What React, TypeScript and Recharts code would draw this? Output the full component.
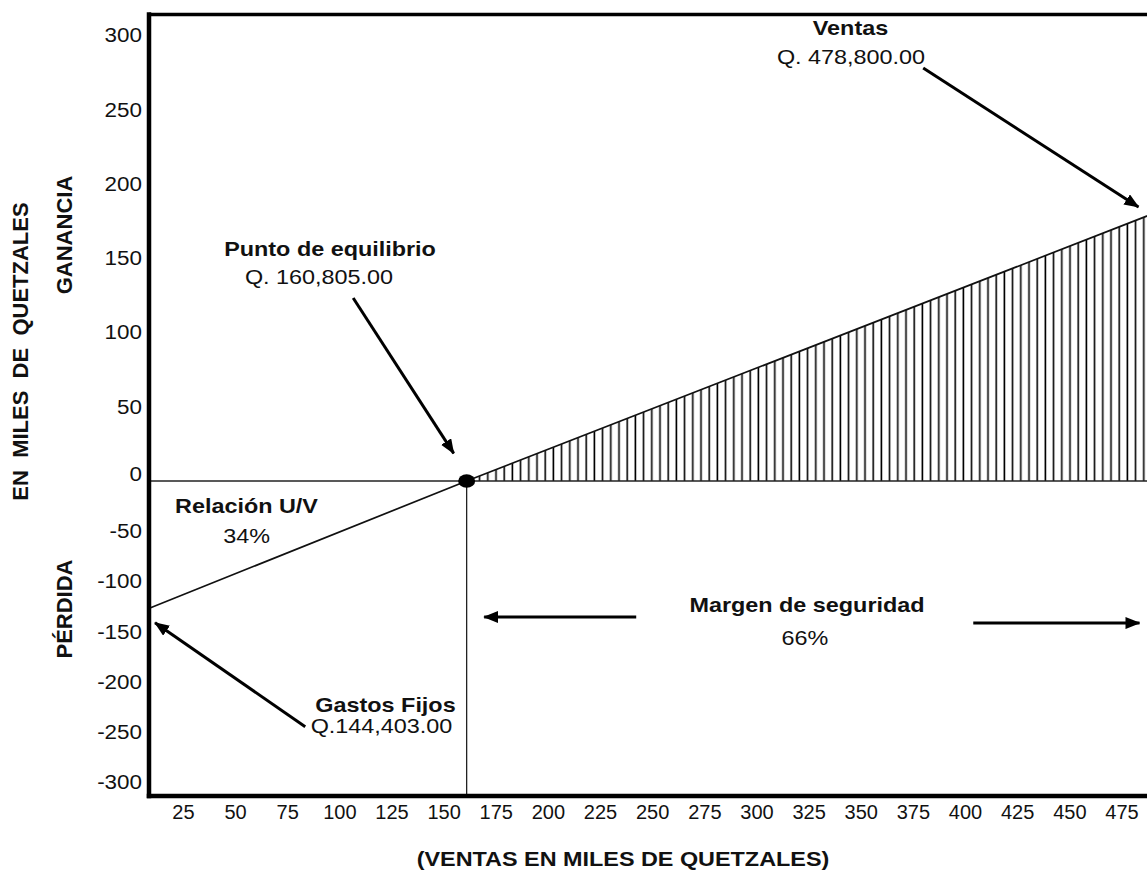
import React from 'react';
import {
  ComposedChart,
  Line,
  Area,
  XAxis,
  YAxis,
  ReferenceLine,
  ReferenceDot,
} from 'recharts';

const FONT = '"Liberation Sans", Arial, sans-serif';

// ventas vs utilidad, en miles de quetzales
const ventas = [0, 160.8, 490];
const utilidad = [-134, 0, 180];

const puntoEquilibrio = 160.8;

const xTicks = [25, 50, 75, 100, 125, 150, 175, 200, 225, 250, 275, 300, 325, 350, 375, 400, 425, 450, 475];
const yTicks = [300, 250, 200, 150, 100, 50, 0, -50, -100, -150, -200, -250, -300];

const xDomain = [8.5, 487];
const yDomain = [-314, 314];

// arrows, in chart units
const flechas = [
  { id: 'ventas', from: { x: 379.7, y: 278 }, to: { x: 482.9, y: 184.4 } },
  { id: 'equilibrio', from: { x: 106.4, y: 123.2 }, to: { x: 154.6, y: 18.6 } },
  { id: 'gastos', from: { x: 83.4, y: -245 }, to: { x: 11.4, y: -141.3 } },
  { id: 'margenIzq', from: { x: 242.1, y: -135.6 }, to: { x: 169.2, y: -135.6 } },
  { id: 'margenDer', from: { x: 403.7, y: -141.6 }, to: { x: 483.4, y: -141.6 } },
];

const rows = ventas.map((v, i) => ({
  ventas: v,
  utilidad: utilidad[i],
  ganancia: utilidad[i] >= 0 ? utilidad[i] : null,
}));

// the original draws the loss side compressed: zero sits lower than the middle
function splitScale(negShare: number): any {
  let dom = [0, 1];
  let rng = [0, 1];
  const s: any = (v: number) => {
    const lo = Math.min(dom[0], dom[1]);
    const hi = Math.max(dom[0], dom[1]);
    const z = rng[0] + negShare * (rng[1] - rng[0]);
    if (v >= 0) return z + (v / hi) * (rng[1] - z);
    return z + (v / lo) * (rng[0] - z);
  };
  s.domain = (d?: any[]) => {
    if (d) {
      dom = [Number(d[0]), Number(d[1])];
      return s;
    }
    return dom.slice();
  };
  s.range = (r?: any[]) => {
    if (r) {
      rng = [Number(r[0]), Number(r[1])];
      return s;
    }
    return rng.slice();
  };
  s.copy = () => splitScale(negShare).domain(dom).range(rng);
  s.ticks = () => yTicks.slice();
  s.tickFormat = () => (v: any) => String(v);
  return s;
}

const yScale = splitScale(315 / 781.5);

function YTick(props: any) {
  const { x, y, payload } = props;
  // the "0" label sits a little above the zero line in the original
  const lift = payload.value === 0 ? -7 : 0;
  return (
    <text
      transform={`translate(${x},${y + lift}) scale(1.15,1)`}
      textAnchor="end"
      dy="0.36em"
      fontSize={19.5}
      fontFamily={FONT}
      fill="#111"
    >
      {payload.value}
    </text>
  );
}

function XTick(props: any) {
  const { x, y, payload } = props;
  return (
    <text x={x} y={y} textAnchor="middle" dy="0.71em" fontSize={20} fontFamily={FONT} fill="#111">
      {payload.value}
    </text>
  );
}

function T({ x, y, bold, children }: { x: number; y: number; bold?: boolean; children: React.ReactNode }) {
  return (
    <text
      transform={`translate(${x},${y}) scale(1.2,1)`}
      textAnchor="middle"
      fontSize={19.5}
      fontWeight={bold ? 700 : 400}
      fontFamily={FONT}
      fill="#111"
    >
      {children}
    </text>
  );
}

function V({ x, y, children }: { x: number; y: number; children: React.ReactNode }) {
  return (
    <text
      transform={`translate(${x},${y}) rotate(-90)`}
      textAnchor="middle"
      fontSize={22}
      fontWeight={700}
      fontFamily={FONT}
      fill="#111"
      style={{ whiteSpace: 'pre' }}
    >
      {children}
    </text>
  );
}

export default function App() {
  return (
    <div style={{ position: 'absolute', left: 0, top: 0, width: 1147, height: 875, background: '#fff', overflow: 'hidden' }}>
      <svg width={0} height={0} style={{ position: 'absolute' }}>
        <defs>
          <pattern id="hatch" patternUnits="userSpaceOnUse" width="8.2" height="20">
            <line x1="4" y1="0" x2="4" y2="20" stroke="#000" strokeWidth="1.6" />
          </pattern>
          <marker
            id="arrowHead"
            viewBox="0 0 15 12"
            refX="14"
            refY="6"
            markerWidth="15"
            markerHeight="12"
            markerUnits="userSpaceOnUse"
            orient="auto"
          >
            <path d="M0,0 L15,6 L0,12 z" fill="#000" />
          </marker>
        </defs>
      </svg>

      <div style={{ position: 'absolute', left: 0, top: 0 }}>
        <ComposedChart width={1147} height={875} data={rows} margin={{ top: 14.5, right: 0, bottom: 0, left: 0 }}>
          <XAxis
            dataKey="ventas"
            type="number"
            domain={xDomain}
            allowDataOverflow
            ticks={xTicks}
            interval={0}
            height={79}
            tickLine={false}
            tickMargin={3}
            tick={<XTick />}
            axisLine={{ stroke: '#000', strokeWidth: 4.5, strokeLinecap: 'square' }}
          />
          <YAxis
            type="number"
            domain={yDomain}
            scale={yScale}
            ticks={yTicks}
            interval={0}
            width={149}
            tickLine={false}
            tickMargin={1}
            tick={<YTick />}
            axisLine={{ stroke: '#000', strokeWidth: 4.5, strokeLinecap: 'square' }}
          />
          <ReferenceLine y={yDomain[1]} stroke="#000" strokeWidth={3.5} ifOverflow="visible" />
          <Area
            dataKey="ganancia"
            type="linear"
            baseValue={0}
            fill="url(#hatch)"
            fillOpacity={1}
            stroke="none"
            isAnimationActive={false}
            dot={false}
            activeDot={false}
          />
          <ReferenceLine y={0} stroke="#222" strokeWidth={1.3} />
          <ReferenceLine
            segment={[
              { x: puntoEquilibrio, y: 0 },
              { x: puntoEquilibrio, y: yDomain[0] },
            ]}
            stroke="#222"
            strokeWidth={1.3}
          />
          <Line
            dataKey="utilidad"
            type="linear"
            stroke="#111"
            strokeWidth={1.7}
            dot={false}
            activeDot={false}
            isAnimationActive={false}
          />
          <ReferenceDot
            x={puntoEquilibrio}
            y={0}
            r={7}
            shape={(p: any) => <ellipse cx={p.cx} cy={p.cy} rx={8.5} ry={6.8} fill="#000" />}
          />
          {flechas.map((f) => (
            <ReferenceLine
              key={f.id}
              segment={[f.from, f.to]}
              stroke="#000"
              strokeWidth={3}
              markerEnd="url(#arrowHead)"
              ifOverflow="visible"
            />
          ))}
        </ComposedChart>
      </div>

      <svg width={1147} height={875} style={{ position: 'absolute', left: 0, top: 0, pointerEvents: 'none' }}>
        <T x={850.5} y={35} bold>Ventas</T>
        <T x={851} y={63.5}>Q. 478,800.00</T>
        <T x={330} y={255.7} bold>Punto de equilibrio</T>
        <T x={319} y={284.3}>Q. 160,805.00</T>
        <T x={246.5} y={513.3} bold>Relación U/V</T>
        <T x={246.7} y={543.3}>34%</T>
        <T x={807} y={611.7} bold>Margen de seguridad</T>
        <T x={805} y={645}>66%</T>
        <T x={385.5} y={711.7} bold>Gastos Fijos</T>
        <T x={381.5} y={733.3}>Q.144,403.00</T>
        <T x={623} y={866} bold>(VENTAS EN MILES DE QUETZALES)</T>
        <V x={28.3} y={351.5}>EN  MILES  DE  QUETZALES</V>
        <V x={71.5} y={235}>GANANCIA</V>
        <V x={71.7} y={609}>PÉRDIDA</V>
      </svg>
    </div>
  );
}
